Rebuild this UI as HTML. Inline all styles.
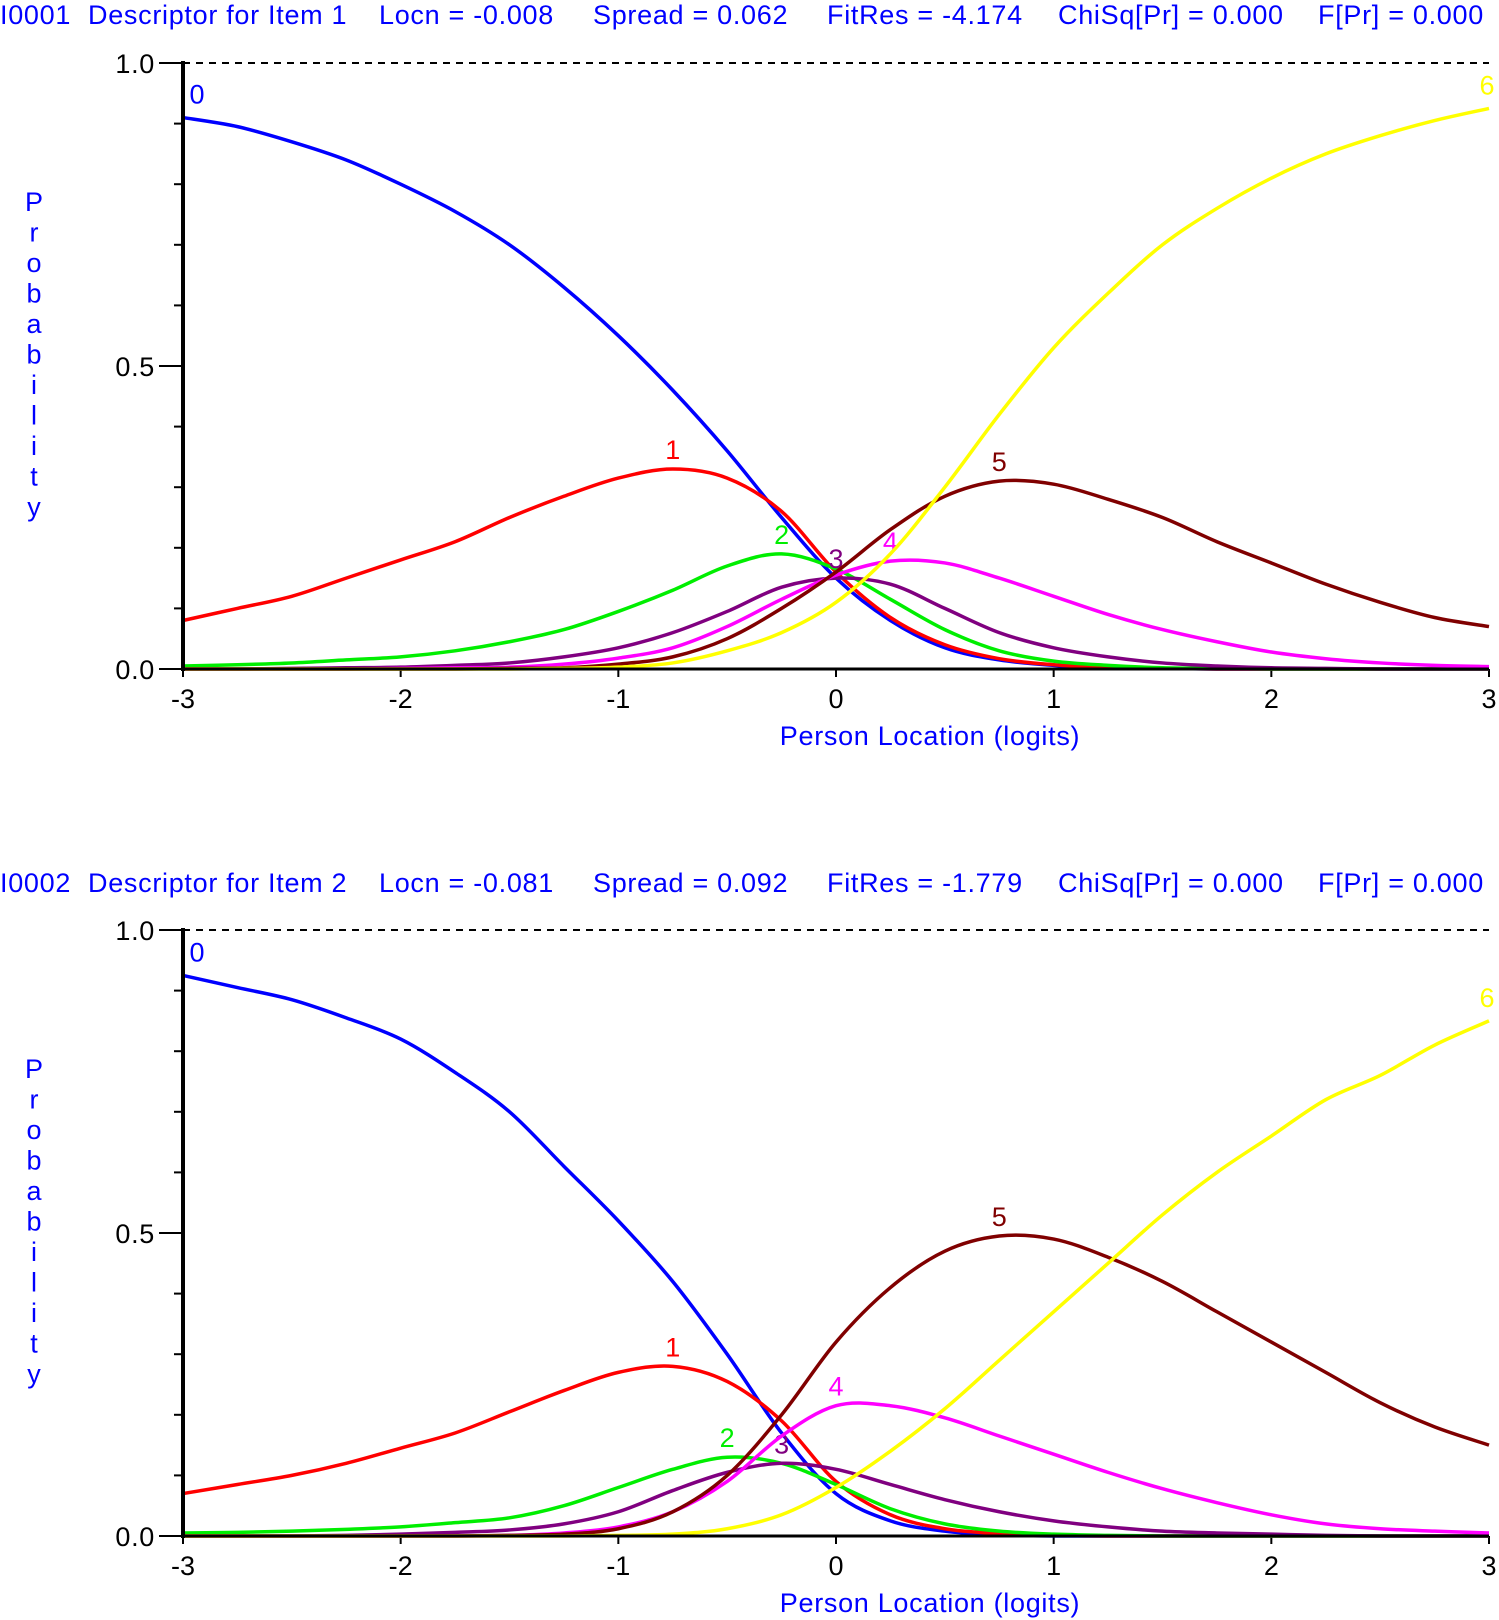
<!DOCTYPE html>
<html><head><meta charset="utf-8"><style>
html,body{margin:0;padding:0;background:#fff;width:1499px;height:1620px;overflow:hidden}
svg{display:block}
text{font-family:"Liberation Sans",sans-serif}
</style></head><body>
<svg id="svg" width="1499" height="1620" viewBox="0 0 1499 1620"></svg>
<script>
const xs = [-3,-2.75,-2.5,-2.25,-2,-1.75,-1.5,-1.25,-1,-0.75,-0.5,-0.25,0,0.25,0.5,0.75,1,1.25,1.5,1.75,2,2.25,2.5,2.75,3];
const categories = ["0","1","2","3","4","5","6"];
const colors = ["#0000ff","#ff0000","#00ee00","#800080","#ff00ff","#800000","#ffff00"];
const xTicks = [-3,-2,-1,0,1,2,3];
const yTickLabels = ["0.0","0.5","1.0"];
const headers1 = ["I0001","Descriptor for Item 1","Locn = -0.008","Spread = 0.062","FitRes = -4.174","ChiSq[Pr] = 0.000","F[Pr] = 0.000"];
const headers2 = ["I0002","Descriptor for Item 2","Locn = -0.081","Spread = 0.092","FitRes = -1.779","ChiSq[Pr] = 0.000","F[Pr] = 0.000"];
const item1_c0 = [.91,.895,.87,.84,.80,.755,.70,.63,.55,.46,.36,.25,.15,.08,.035,.015,.006,.002,.001,0,0,0,0,0,0];
const item1_c1 = [.08,.10,.12,.15,.18,.21,.25,.285,.315,.33,.315,.26,.16,.085,.04,.017,.007,.003,.001,0,0,0,0,0,0];
const item1_c2 = [.005,.007,.01,.015,.02,.03,.045,.065,.095,.13,.17,.19,.165,.115,.065,.03,.013,.006,.002,.001,0,0,0,0,0];
const item1_c3 = [0,0,.001,.002,.003,.006,.01,.02,.035,.06,.095,.135,.15,.14,.10,.06,.035,.02,.01,.005,.002,.001,0,0,0];
const item1_c4 = [0,0,0,0,.001,.002,.003,.008,.018,.035,.07,.115,.155,.178,.175,.15,.12,.09,.065,.045,.028,.017,.01,.006,.004];
const item1_c5 = [0,0,0,0,0,0,.001,.002,.008,.02,.05,.10,.16,.23,.285,.31,.305,.28,.25,.21,.175,.14,.11,.085,.07];
const item1_c6 = [0,0,0,0,0,0,0,.001,.003,.01,.03,.06,.11,.19,.30,.42,.53,.62,.70,.76,.81,.85,.88,.905,.925];
const item2_c0 = [.925,.905,.885,.855,.82,.765,.70,.61,.52,.42,.30,.17,.07,.025,.008,.002,0,0,0,0,0,0,0,0,0];
const item2_c1 = [.07,.085,.10,.12,.145,.17,.205,.24,.27,.28,.255,.19,.09,.035,.012,.004,.001,0,0,0,0,0,0,0,0];
const item2_c2 = [.005,.006,.008,.011,.015,.022,.03,.05,.08,.11,.13,.12,.085,.045,.02,.008,.003,.001,0,0,0,0,0,0,0];
const item2_c3 = [0,0,0,.001,.003,.006,.01,.02,.04,.075,.105,.12,.11,.085,.06,.04,.025,.015,.008,.005,.003,.001,0,0,0];
const item2_c4 = [0,0,0,0,0,0,.001,.005,.015,.04,.09,.165,.215,.215,.195,.165,.135,.105,.078,.055,.035,.02,.012,.008,.005];
const item2_c5 = [0,0,0,0,0,0,.001,.003,.012,.04,.10,.20,.32,.41,.47,.495,.49,.46,.42,.37,.32,.27,.22,.18,.15];
const item2_c6 = [0,0,0,0,0,0,0,0,.001,.003,.012,.035,.08,.14,.21,.29,.37,.45,.53,.60,.66,.72,.76,.81,.85];
const item1 = [item1_c0,item1_c1,item1_c2,item1_c3,item1_c4,item1_c5,item1_c6];
const item2 = [item2_c0,item2_c1,item2_c2,item2_c3,item2_c4,item2_c5,item2_c6];

const NS="http://www.w3.org/2000/svg";
const svg=document.getElementById('svg');
function mk(tag,attrs,parent){const e=document.createElementNS(NS,tag);for(const k in attrs)e.setAttribute(k,attrs[k]);(parent||svg).appendChild(e);return e;}
const X0=183,X1=1489;
const headerX=[0,88,379,593,827,1058,1318];
const FS=27, LS=0.7;

function drawPanel(g, top, zero, headers, series, headerY, prefix){
  const xS=v=>X0+(v+3)/6*(X1-X0);
  const yS=p=>zero-p*(zero-top);
  headers.forEach((h,i)=>{
    const t=mk('text',{x:headerX[i],y:headerY,'font-size':FS,'letter-spacing':LS,fill:'#0000ff'},g);
    t.textContent=h;
    
    
  });
  const dash=mk('line',{x1:X0,y1:yS(1),x2:X1,y2:yS(1),stroke:'#000','stroke-width':2,'stroke-dasharray':'7,6'},g);
  
  
  for(let i=0;i<=10;i++){
    const p=i/10, major=(i%5===0);
    mk('line',{x1:major?X0-24:X0-9,y1:yS(p),x2:X0,y2:yS(p),stroke:'#000','stroke-width':2},g);
  }
  yTickLabels.forEach((l,i)=>{
    const t=mk('text',{x:X0-28,y:yS(i*0.5)+10,'font-size':FS,'letter-spacing':LS,'text-anchor':'end',fill:'#000'},g);
    t.textContent=l;
    
    
  });
  xTicks.forEach(v=>{
    mk('line',{x1:xS(v),y1:zero,x2:xS(v),y2:zero+8,stroke:'#000','stroke-width':2},g);
    const t=mk('text',{x:xS(v),y:zero+39,'font-size':FS,'text-anchor':'middle',fill:'#000'},g);
    t.textContent=String(v);
    
    
  });
  const xt=mk('text',{x:930,y:zero+76,'font-size':FS,'letter-spacing':LS,'text-anchor':'middle',fill:'#0000ff'},g);
  xt.textContent='Person Location (logits)';
  
  
  const letters="Probability".split('');
  const yt=mk('text',{x:34,'font-size':FS,'text-anchor':'middle',fill:'#0000ff'},g);
  
  
  letters.forEach((c,i)=>{const s=mk('tspan',{x:34,y:top+148+i*30.5},yt);s.textContent=c;});
  series.forEach((vals,ci)=>{
    const pts=vals.map((p,i)=>[xS(xs[i]),yS(p)]);
    let d='M'+pts[0][0]+','+pts[0][1];
    for(let i=0;i<pts.length-1;i++){
      const p0=pts[Math.max(0,i-1)],p1=pts[i],p2=pts[i+1],p3=pts[Math.min(pts.length-1,i+2)];
      const c1=[p1[0]+(p2[0]-p0[0])/6,p1[1]+(p2[1]-p0[1])/6];
      const c2=[p2[0]-(p3[0]-p1[0])/6,p2[1]-(p3[1]-p1[1])/6];
      d+=` C${c1[0]},${Math.min(zero,c1[1])} ${c2[0]},${Math.min(zero,c2[1])} ${p2[0]},${p2[1]}`;
    }
    const path=mk('path',{d:d,fill:'none',stroke:colors[ci],'stroke-width':3.5},g);
    
    
    let mi=0;vals.forEach((v,i)=>{if(v>vals[mi])mi=i;});
    let lx=xS(xs[mi]),ly=yS(vals[mi])-10,anchor='middle';
    if(mi===0){lx+=14;ly-=4;}
    if(mi===xs.length-1){lx-=2;ly-=4;}
    const lab=mk('text',{x:lx,y:ly,'font-size':FS,'text-anchor':anchor,fill:colors[ci]},g);
    lab.textContent=categories[ci];
    
    
  });
  mk('line',{x1:X0,y1:top-2,x2:X0,y2:zero+2,stroke:'#000','stroke-width':4},g);
  mk('line',{x1:X0,y1:zero,x2:X1,y2:zero,stroke:'#000','stroke-width':3},g);
}
const g1=mk('g',{});


drawPanel(g1,63,669,headers1,item1,24,'item1');
const g2=mk('g',{});


drawPanel(g2,930,1536,headers2,item2,892,'item2');
</script>
</body></html>
